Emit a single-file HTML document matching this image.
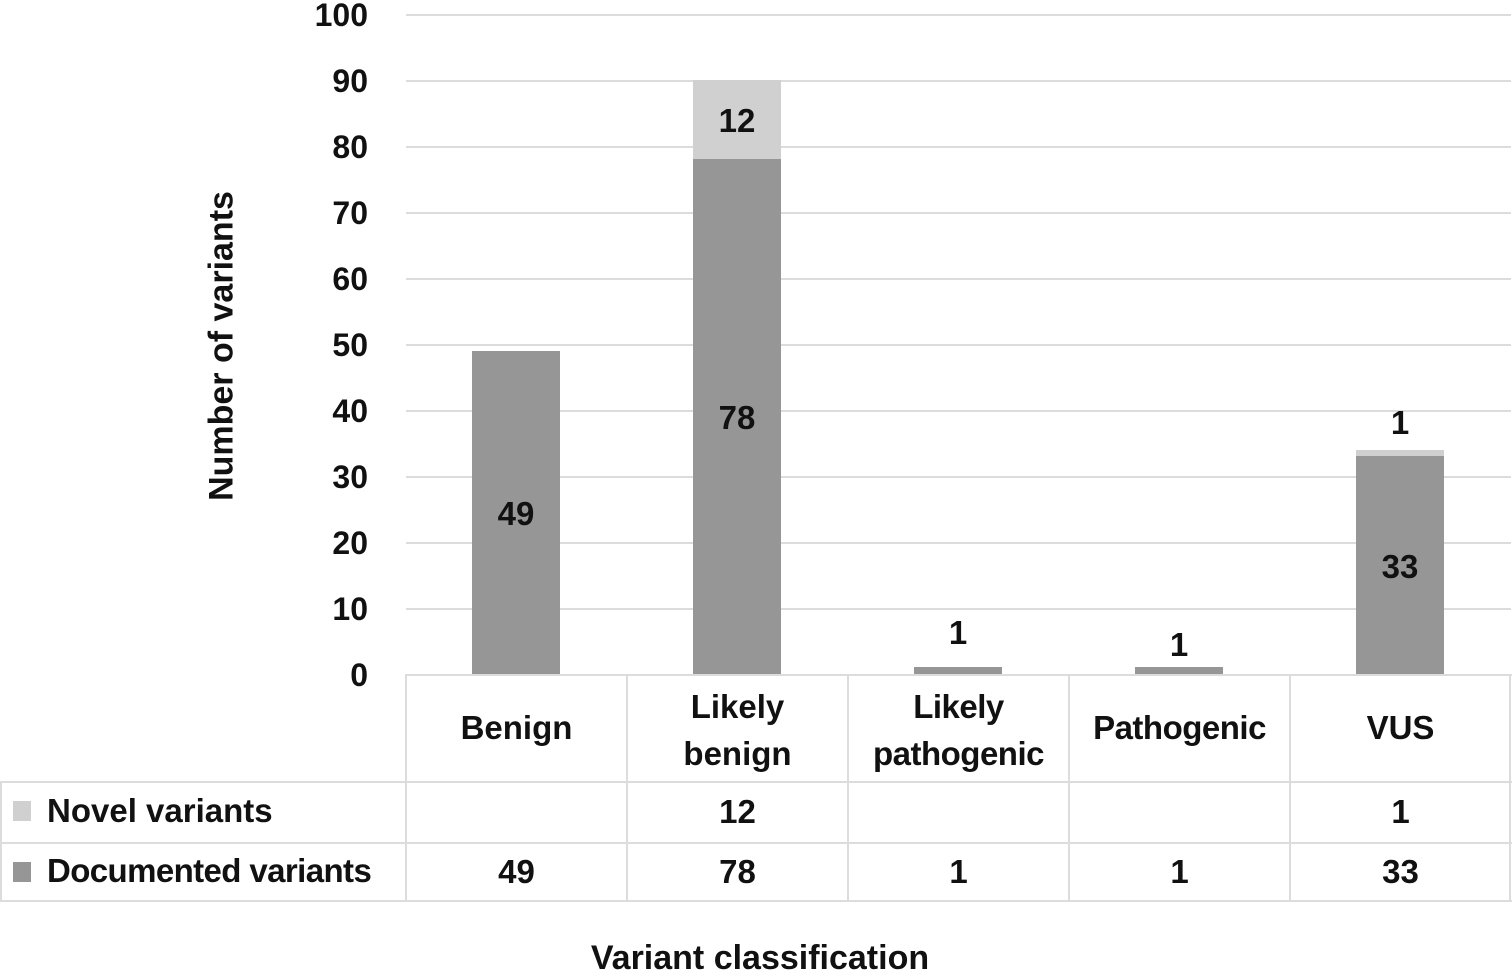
<!DOCTYPE html>
<html><head><style>
body{margin:0;width:1512px;height:972px;background:#fff;position:relative;overflow:hidden;font-family:"Liberation Sans",sans-serif;font-weight:bold;color:#111}
div{position:absolute}
.g{left:406px;width:1105px;height:2px;background:#dcdcdc}
.t{width:90px;left:278px;text-align:right;font-size:32px;line-height:30px}
.b{background:#969696}.l{background:#d0d0d0}
.c{text-align:center;font-size:33px;line-height:36px;white-space:nowrap}
.h{background:#dcdcdc}
</style></head><body>
<div class="g" style="top:14px"></div><div class="g" style="top:80px"></div><div class="g" style="top:146px"></div><div class="g" style="top:212px"></div><div class="g" style="top:278px"></div><div class="g" style="top:344px"></div><div class="g" style="top:410px"></div><div class="g" style="top:476px"></div><div class="g" style="top:542px"></div><div class="g" style="top:608px"></div>
<div class="t" style="top:0px">100</div><div class="t" style="top:66px">90</div><div class="t" style="top:132px">80</div><div class="t" style="top:198px">70</div><div class="t" style="top:264px">60</div><div class="t" style="top:330px">50</div><div class="t" style="top:396px">40</div><div class="t" style="top:462px">30</div><div class="t" style="top:528px">20</div><div class="t" style="top:594px">10</div><div class="t" style="top:660px">0</div>
<div style="left:222px;top:346px;transform:translate(-50%,-50%) rotate(-90deg);font-size:34px;white-space:nowrap">Number of variants</div>
<div class="b" style="left:472px;width:88px;top:351px;height:323px"></div>
<div class="b" style="left:693px;width:88px;top:159px;height:515px"></div>
<div class="l" style="left:693px;width:88px;top:80px;height:79px"></div>
<div class="b" style="left:914px;width:88px;top:667px;height:7px"></div>
<div class="b" style="left:1135px;width:88px;top:667px;height:7px"></div>
<div class="b" style="left:1356px;width:88px;top:456px;height:218px"></div>
<div class="l" style="left:1356px;width:88px;top:450px;height:6px"></div>
<div class="c" style="left:472px;width:88px;top:496px">49</div>
<div class="c" style="left:693px;width:88px;top:400px">78</div>
<div class="c" style="left:693px;width:88px;top:103px">12</div>
<div class="c" style="left:914px;width:88px;top:615px">1</div>
<div class="c" style="left:1135px;width:88px;top:627px">1</div>
<div class="c" style="left:1356px;width:88px;top:405px">1</div>
<div class="c" style="left:1356px;width:88px;top:549px">33</div>
<div class="h" style="left:405px;top:674px;width:1107px;height:2px"></div>
<div class="h" style="left:0;top:781px;width:1512px;height:2px"></div>
<div class="h" style="left:0;top:842px;width:1512px;height:2px"></div>
<div class="h" style="left:0;top:900px;width:1512px;height:2px"></div>
<div class="h" style="left:0;top:781px;width:2px;height:121px"></div>
<div class="h" style="left:405px;top:674px;width:2px;height:228px"></div>
<div class="h" style="left:626px;top:674px;width:2px;height:228px"></div>
<div class="h" style="left:847px;top:674px;width:2px;height:228px"></div>
<div class="h" style="left:1068px;top:674px;width:2px;height:228px"></div>
<div class="h" style="left:1289px;top:674px;width:2px;height:228px"></div>
<div class="h" style="left:1509px;top:674px;width:2px;height:228px"></div>
<div class="c" style="left:406px;width:221px;top:710px">Benign</div>
<div class="c" style="left:627px;width:221px;top:683px;line-height:47px">Likely<br>benign</div>
<div class="c" style="left:848px;width:221px;top:683px;line-height:47px;letter-spacing:-0.5px">Likely<br>pathogenic</div>
<div class="c" style="left:1069px;width:221px;top:710px;letter-spacing:-0.5px">Pathogenic</div>
<div class="c" style="left:1290px;width:221px;top:710px">VUS</div>
<div class="l" style="left:13px;top:801px;width:18px;height:20px"></div>
<div class="b" style="left:13px;top:862px;width:18px;height:20px"></div>
<div style="left:47px;top:793px;font-size:33px;line-height:36px;white-space:nowrap">Novel variants</div>
<div style="left:47px;top:853px;font-size:33px;line-height:36px;white-space:nowrap;letter-spacing:-0.6px">Documented variants</div>
<div class="c" style="left:627px;width:221px;top:794px">12</div>
<div class="c" style="left:1290px;width:221px;top:794px">1</div>
<div class="c" style="left:406px;width:221px;top:854px">49</div>
<div class="c" style="left:627px;width:221px;top:854px">78</div>
<div class="c" style="left:848px;width:221px;top:854px">1</div>
<div class="c" style="left:1069px;width:221px;top:854px">1</div>
<div class="c" style="left:1290px;width:221px;top:854px">33</div>
<div style="left:510px;width:500px;top:940px;text-align:center;font-size:34px;line-height:36px">Variant classification</div>
</body></html>
